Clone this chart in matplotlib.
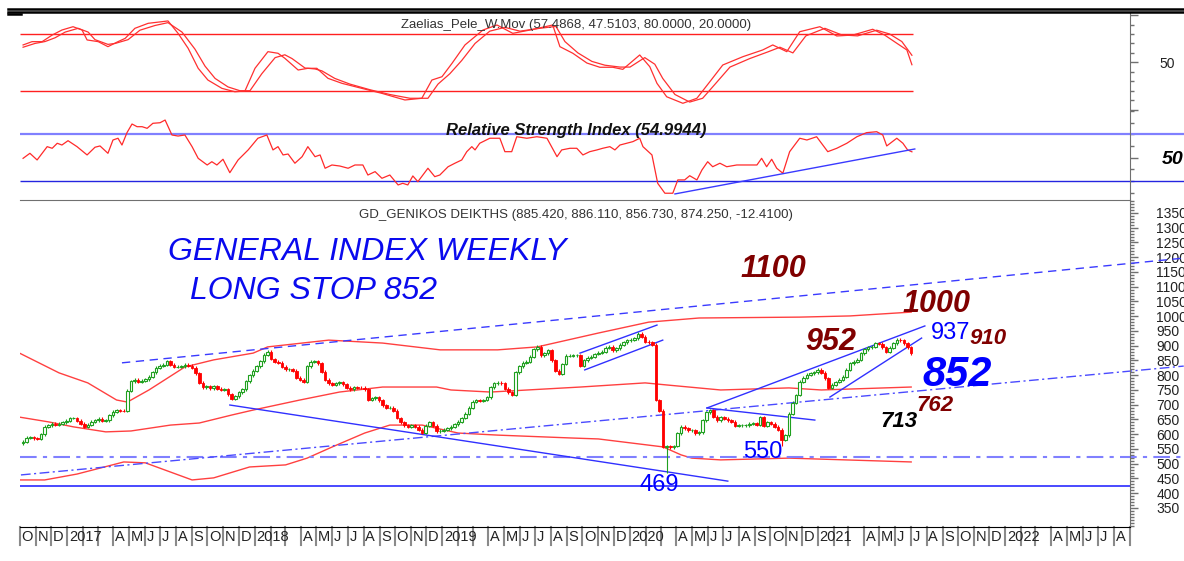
import numpy as np
import matplotlib
matplotlib.use('Agg')
import matplotlib.pyplot as plt
from matplotlib.lines import Line2D
from matplotlib.transforms import blended_transform_factory

plt.rcParams['font.family'] = ['Liberation Sans', 'DejaVu Sans']

W, H = 1184, 561
START = np.datetime64('2016-10-07')   # week 0 = first weekly candle

# weekly closes, GD general index
closes = [
    574, 588, 590, 586, 584, 600, 625, 630, 635, 632,
    636, 640, 645, 655, 655, 645, 635, 625, 632, 642,
    648, 652, 646, 648, 665, 676, 682, 680, 679, 748,
    780, 784, 777, 782, 786, 795, 810, 825, 832, 836,
    848, 835, 828, 828, 830, 835, 832, 825, 807, 775,
    760, 762, 756, 762, 755, 750, 752, 735, 720, 728,
    742, 752, 780, 800, 815, 830, 848, 870, 879, 855,
    845, 842, 828, 820, 820, 815, 792, 784, 778, 830,
    845, 848, 840, 812, 785, 772, 767, 772, 776, 770,
    757, 753, 760, 758, 757, 752, 716, 722, 726, 715,
    698, 689, 690, 680, 655, 640, 630, 625, 630, 626,
    615, 605, 628, 640, 628, 610, 612, 616, 621, 625,
    633, 642, 655, 670, 690, 710, 716, 714, 716, 726,
    760, 772, 775, 772, 755, 742, 733, 810, 830, 842,
    845, 862, 888, 896, 868, 875, 884, 850, 815, 805,
    838, 866, 866, 868, 868, 832, 850, 860, 862, 872,
    877, 880, 893, 896, 884, 892, 903, 912, 918, 921,
    926, 940, 930, 913, 912, 903, 716, 680, 557, 560,
    556, 560, 604, 625, 620, 614, 614, 604, 606, 648,
    675, 682, 660, 648, 658, 652, 648, 642, 628, 630,
    631, 631, 636, 638, 632, 658, 628, 640, 636, 625,
    615, 582, 597, 670, 706, 733, 778, 792, 801, 806,
    810, 818, 808, 790, 758, 767, 777, 785, 795, 818,
    840, 846, 852, 875, 888, 895, 897, 908, 907, 895,
    880, 893, 908, 920, 918, 909, 894, 874,
]
first_open = 570
low_spikes = {179: 469, 211: 560}

# envelope bands (week, value)
band_up_w = [-1, 10, 18, 26, 29, 35, 45, 53, 64, 68, 85, 100, 116, 132, 143, 160, 174, 188, 216, 230, 247]
band_up = [875, 808, 774, 716, 709, 750, 828, 852, 875, 896, 919, 909, 886, 886, 896, 943, 980, 994, 997, 1001, 1014]
band_mid_w = [-1, 7, 14, 23, 30, 41, 49, 58, 64, 77, 88, 100, 115, 119, 130, 155, 173, 179, 194, 213, 222, 247]
band_mid = [658, 642, 625, 608, 611, 631, 638, 665, 682, 716, 743, 760, 760, 750, 743, 760, 774, 767, 750, 757, 750, 760]
band_low_w = [-1, 6, 15, 28, 34, 47, 53, 63, 73, 79, 86, 95, 102, 111, 121, 132, 153, 160, 178, 183, 186, 194, 213, 247]
band_low = [445, 445, 465, 506, 503, 445, 452, 489, 496, 519, 557, 604, 631, 631, 604, 597, 587, 584, 557, 530, 519, 513, 519, 506]

# Zaelias_Pele_W.Mov, two lines (week, value)
zp_fast_w = [0, 2.5, 5.3, 8.1, 10.8, 13.9, 16.4, 17.8, 20.9, 23.6, 26.4, 28.4, 31.1, 34.8, 38.6, 40.3,
             43.1, 45.9, 48.7, 51.4, 55.3, 58.9, 61.7, 64.5, 68.1, 70.9, 72.8, 76.5, 79.2, 81.7, 84.8,
             88.7, 94.2, 99.8, 106.2, 110.9, 113.7, 116.5, 119.3, 122.9, 127.9, 131.8, 136.2, 141.0,
             147.3, 149.3, 152.9, 156.8, 160.4, 164.0, 166.8, 171.5, 174.3, 176.3, 179.0, 183.5, 187.4,
             191.0, 194.6, 200.2, 205.7, 208.5, 212.4, 216.0, 221.6, 226.3, 230.8, 236.3, 239.6, 243.0,
             245.8, 247.2]
zp_fast = [68.4, 71.9, 71.9, 78.9, 84.2, 87.7, 84.2, 73.7, 71.9, 66.6, 71.9, 75.4, 86.0, 91.3, 93.0, 93.8,
           80.7, 64.9, 43.7, 31.3, 22.5, 18.9, 19.7, 43.7, 61.3, 59.6, 54.3, 41.9, 43.7, 43.7, 33.1,
           27.8, 22.5, 17.2, 10.2, 12.0, 31.3, 34.8, 49.0, 68.4, 84.2, 89.5, 80.7, 84.2,
           89.5, 66.6, 59.6, 49.3, 44.8, 44.8, 42.6, 57.8, 45.4, 27.8, 13.6, 6.7, 12.0,
           29.5, 47.2, 56.0, 63.1, 68.4, 61.3, 82.4, 87.7, 77.9, 78.9, 85.0, 78.9, 70.2,
           63.1, 47.5]
zp_slow_w = [0, 3.3, 6.1, 8.9, 11.7, 15.3, 18.1, 20.0, 23.6, 25.6, 29.2, 32.5, 36.7, 40.3, 44.2, 47.8,
             50.6, 53.4, 57.0, 60.3, 63.1, 66.4, 70.1, 72.8, 74.8, 78.4, 81.2, 83.1, 86.7, 90.9, 96.5,
             102.0, 107.6, 112.6, 115.4, 118.7, 122.0, 125.7, 129.8, 134.0, 138.2, 143.7, 148.2, 150.7,
             154.3, 158.2, 161.8, 166.0, 168.8, 172.9, 175.7, 177.9, 181.3, 185.4, 189.0, 192.7, 196.6,
             202.1, 207.1, 210.5, 214.1, 217.7, 223.0, 227.7, 232.1, 237.4, 241.0, 244.4, 247.2]
zp_slow = [66, 70, 72, 76, 82, 86, 82, 74, 69, 70, 74, 84, 89, 92, 82, 64,
           46, 33, 24, 20, 20, 38, 55, 58, 54, 44, 43, 41, 33, 27, 21,
           16, 12, 12, 27, 38, 52, 70, 83, 87, 83, 86, 88, 72,
           60, 51, 47, 45, 45, 55, 48, 33, 16, 8, 12, 28, 45,
           54, 61, 66, 60, 78, 86, 79, 78, 84, 80, 72, 57.5]

# Relative Strength Index (week, value)
rsi_w = [0, 1.9, 3.9, 6.7, 8.1, 9.5, 10.8, 12.5, 15.0, 17.8, 20.0, 21.4, 23.6, 25.0, 26.4, 27.5, 28.9,
         30.3, 31.7, 33.1, 34.5, 36.1, 38.1, 39.5, 41.4, 43.1, 45.0, 47.0, 48.7, 51.2, 52.5, 53.9, 55.6,
         57.5, 59.8, 62.6, 65.3, 67.8, 69.5, 70.9, 72.3, 73.7, 75.6, 77.6, 79.2, 81.2, 82.6, 84.0, 85.9,
         88.1, 90.4, 92.3, 94.5, 95.9, 97.9, 99.8, 102.0, 104.3, 105.6, 107.0, 108.4, 109.8, 112.6,
         114.5, 115.9, 118.2, 120.1, 122.0, 123.4, 124.8, 125.7, 127.0, 129.8, 132.6, 134.0, 135.9,
         137.3, 140.1, 142.9, 145.7, 148.5, 149.8, 152.1, 154.0, 155.7, 157.6, 159.6, 161.2, 163.2,
         164.6, 166.0, 167.9, 169.6, 171.5, 172.4, 174.9, 176.5, 178.5, 180.7, 182.1, 184.0, 185.4,
         187.4, 188.8, 190.4, 191.8, 193.8, 195.7, 198.5, 200.2, 202.1, 204.1, 205.4, 206.8, 208.2,
         209.6, 211.3, 213.2, 216.0, 218.0, 220.7, 223.8, 226.3, 229.1, 231.9, 234.6, 237.4, 239.1,
         240.2, 243.0, 244.7, 246.0, 247.2]
rsi = [49.4, 53.7, 48.0, 59.4, 58.0, 62.3, 60.8, 64.5, 59.4, 52.3, 58.9, 60.0, 53.7, 65.1, 66.6, 60.8, 71.4,
       78.8, 76.5, 76.5, 75.1, 79.4, 79.9, 82.2, 69.4, 68.5, 69.4, 59.4, 49.4, 43.7, 46.5, 43.7, 48.6,
       37.1, 48.0, 56.6, 66.6, 69.4, 56.6, 59.4, 52.3, 53.1, 45.2, 50.8, 59.4, 50.8, 52.3, 40.9, 43.7,
       42.8, 40.9, 43.7, 43.7, 35.1, 38.0, 32.3, 35.1, 26.6, 28.0, 26.6, 34.3, 29.4, 40.9,
       33.7, 35.1, 42.2, 45.2, 48.0, 55.1, 59.4, 56.6, 62.3, 66.6, 66.6, 55.1, 55.1,
       67.9, 66.6, 67.9, 66.6, 50.8, 56.6, 58.0, 58.0, 52.3, 55.1, 56.6, 58.0, 59.4,
       56.6, 60.8, 62.3, 63.7, 66.6, 59.4, 52.3, 28.0, 19.5, 19.5, 30.9, 30.9, 34.5,
       30.9, 39.4, 46.5, 42.2, 45.2, 42.2, 43.7, 43.7, 43.7, 43.7, 49.4, 42.2, 48.6,
       40.9, 36.6, 55.1, 66.6, 65.1, 67.9, 55.1, 58.0, 62.3, 67.9, 71.4, 72.2, 69.4,
       60.0, 66.6, 62.3, 56.6, 55.0]

# hand drawn trend lines: (week0, value0, week1, value1)
rsi_trend = (181.3, 18.9, 248.0, 57.4)
solid_lines = [
    (57.5, 699, 196.0, 441),     # falling line to 469
    (154.9, 875, 176.3, 970),    # 2019 channel top
    (156.2, 818, 177.9, 919),    # 2019 channel bottom
    (190.2, 689, 220.2, 648),    # summer 2020 line
    (190.2, 689, 250.8, 967),    # 2021 channel top
    (224.4, 726, 249.9, 926),    # 2021 channel bottom
]
long_dashed = (27.5, 842, 322.8, 1197)
long_dashdot = (-0.6, 462, 322.8, 831)
flat_dashdot = 523
flat_solid = 425

# level labels: (text, week, value, size, colour, bold-italic)
levels = [
    ('1100', 208.8, 1160, 22, '#800000', True),
    ('1000', 254.1, 1041, 22, '#800000', True),
    ('952', 224.6, 913, 22, '#800000', True),
    ('937', 258.0, 943, 17, '#0000ff', False),
    ('910', 268.3, 926, 16, '#800000', True),
    ('852', 259.7, 801, 30, '#0000ff', True),
    ('762', 253.5, 699, 16, '#800000', True),
    ('713', 243.5, 642, 16, '#000000', True),
    ('550', 205.7, 540, 17, '#0000ff', False),
    ('469', 176.8, 428, 17, '#0000ff', False),
]


def week_of(d):
    return (np.datetime64(d, 'D') - START).astype(int) / 7.0


x_left = week_of('2016-10-01')
x_right = week_of('2022-09-01')
x_edge = x_right + (W - 1130) / 1110 * (x_right - x_left)

fig = plt.figure(figsize=(W / 100, H / 100), dpi=100)


def px_axes(left, top, right, bottom):
    return fig.add_axes([left / W, 1 - bottom / H, (right - left) / W, (bottom - top) / H])


ax_z = px_axes(20, 13, 1130, 110)
ax_r = px_axes(20, 110, 1130, 200)
ax_p = px_axes(20, 200, 1130, 527)

for ax in (ax_z, ax_r, ax_p):
    ax.set_xlim(x_left, x_right)
    ax.set_xticks([])
    ax.spines['left'].set_visible(False)
    ax.spines['right'].set_color('#707070')
    ax.yaxis.tick_right()
    ax.tick_params(axis='y', which='both', direction='out', colors='#707070',
                   labelcolor='#222222', width=1)
    ax.tick_params(axis='y', which='major', length=6)
    ax.tick_params(axis='y', which='minor', length=3)
for ax in (ax_z, ax_r):
    ax.spines['top'].set_visible(False)
    ax.spines['bottom'].set_visible(False)
ax_p.spines['top'].set_color('#707070')
ax_p.spines['bottom'].set_color('#000000')

# ---- Zaelias panel
ax_z.set_ylim(-0.4, 102.2)
ax_z.hlines([80, 20], x_left, 247.4, color='#ff2020', lw=1)
ax_z.plot(zp_slow_w, zp_slow, color='#ff3030', lw=0.9)
ax_z.plot(zp_fast_w, zp_fast, color='#ff3030', lw=0.9)
ax_z.set_yticks([0, 50, 100])
ax_z.set_yticklabels(['', '50', ''])
ax_z.set_yticks(np.arange(10, 100, 10), minor=True)
ax_z.tick_params(axis='y', labelsize=10, pad=15)

# ---- RSI panel
ax_r.set_ylim(13.7, 90.8)
ax_r.hlines(70, x_left, x_edge, color='#8080ff', lw=1.6, clip_on=False)
ax_r.hlines(30, x_left, x_edge, color='#2424e0', lw=1, clip_on=False)
ax_r.plot(rsi_w, rsi, color='#ff2a2a', lw=0.9)
ax_r.plot(rsi_trend[::2], rsi_trend[1::2], color='#3a3aff', lw=1)
ax_r.set_yticks([50])
ax_r.set_yticks(np.arange(20, 91, 10), minor=True)
ax_r.tick_params(axis='y', labelsize=14, pad=17)
for lab in ax_r.get_yticklabels():
    lab.set_fontweight('bold')
    lab.set_fontstyle('italic')
    lab.set_color('#000000')

# ---- price panel
ax_p.set_ylim(285.5, 1394)
ax_p.set_yticks(np.arange(350, 1351, 50))
ax_p.set_yticks(np.arange(290, 1391, 10), minor=True)
ax_p.tick_params(axis='y', labelsize=10, pad=13)

ax_p.plot(band_up_w, band_up, color='#ff4040', lw=1)
ax_p.plot(band_mid_w, band_mid, color='#ff4040', lw=1)
ax_p.plot(band_low_w, band_low, color='#ff4040', lw=1)

ax_p.hlines(flat_solid, x_left, x_right, color='#2a2aff', lw=1.2)
ax_p.hlines(flat_dashdot, x_left, x_edge, color='#8080ff', lw=1.5,
            linestyles=[(0, (8, 3, 2, 3))], clip_on=False)
ax_p.plot(long_dashed[::2], long_dashed[1::2], color='#3a3aff', lw=1,
          ls=(0, (6, 4)), clip_on=False)
ax_p.plot(long_dashdot[::2], long_dashdot[1::2], color='#4a4aff', lw=1,
          ls=(0, (7, 2.5, 1.5, 2.5)), clip_on=False)
for x0, y0, x1, y1 in solid_lines:
    ax_p.plot([x0, x1], [y0, y1], color='#3030ff', lw=1)

# candles (weekly open taken as the prior week's close)
weeks = np.arange(len(closes))
c = np.array(closes, dtype=float)
o = np.concatenate([[first_open], c[:-1]])
up = c >= o
hi = np.maximum(o, c) + 5
lo = np.minimum(o, c) - 5
for k, v in low_spikes.items():
    lo[k] = v
green, red = '#1fa01f', '#ff0000'
ax_p.vlines(weeks, lo, hi, colors=np.where(up, green, red), lw=0.8, zorder=3)
ax_p.bar(weeks[up], (c - o)[up], bottom=o[up], width=0.72, facecolor='white',
         edgecolor=green, lw=0.8, zorder=4)
ax_p.bar(weeks[~up], (c - o)[~up], bottom=o[~up], width=0.72, facecolor=red,
         edgecolor=red, lw=0.6, zorder=4)

for txt, xw, yv, size, col, strong in levels:
    ax_p.text(xw, yv, txt, fontsize=size, color=col, ha='center', va='center',
              fontweight='bold' if strong else 'normal',
              fontstyle='italic' if strong else 'normal')

hand = dict(color='#0a0aee', fontsize=23, fontstyle='italic', ha='left', va='center')
ax_p.text(40.3, 1218, 'GENERAL INDEX WEEKLY', **hand)
ax_p.text(46.4, 1086, 'LONG STOP 852', **hand)

# ---- month strip under the price panel
trans = blended_transform_factory(ax_p.transData, ax_p.transAxes)
strip = 18 / 327
letters = 'JFMAMJJASOND'
months = np.arange(np.datetime64('2016-10'), np.datetime64('2022-10'), np.timedelta64(1, 'M'))
for m in months:
    w = week_of(m.astype('datetime64[D]'))
    ax_p.plot([w, w], [0, -strip], transform=trans, color='#8a8a8a', lw=1.5, clip_on=False)
    if m == months[-1]:
        break
    mon = m.astype(int) % 12
    if mon == 0:
        lab = str(m.astype(int) // 12 + 1970)
    elif mon in (1, 2):
        lab = ''
    else:
        lab = letters[mon]
    ax_p.text(w + 0.45, -10 / 327, lab, transform=trans, fontsize=10.5,
              color='#222222', ha='left', va='center')

# ---- headings
fig.text(576 / W, 1 - 25 / H, 'Zaelias_Pele_W.Mov (57.4868, 47.5103, 80.0000, 20.0000)',
         ha='center', va='center', fontsize=9.5, color='#333333')
fig.text(576 / W, 1 - 130 / H, 'Relative Strength Index (54.9944)', ha='center', va='center',
         fontsize=12, fontweight='bold', fontstyle='italic', color='#111111')
fig.text(576 / W, 1 - 215 / H, 'GD_GENIKOS DEIKTHS (885.420, 886.110, 856.730, 874.250, -12.4100)',
         ha='center', va='center', fontsize=9.5, color='#333333')

# top double rule
for yy in (8.5, 11.5):
    fig.add_artist(Line2D([8 / W, 1], [1 - yy / H] * 2, color='black', lw=1.8))
fig.add_artist(Line2D([8 / W, 21 / W], [1 - 13.5 / H] * 2, color='black', lw=1.8))

fig.savefig('out.png', dpi=100)
